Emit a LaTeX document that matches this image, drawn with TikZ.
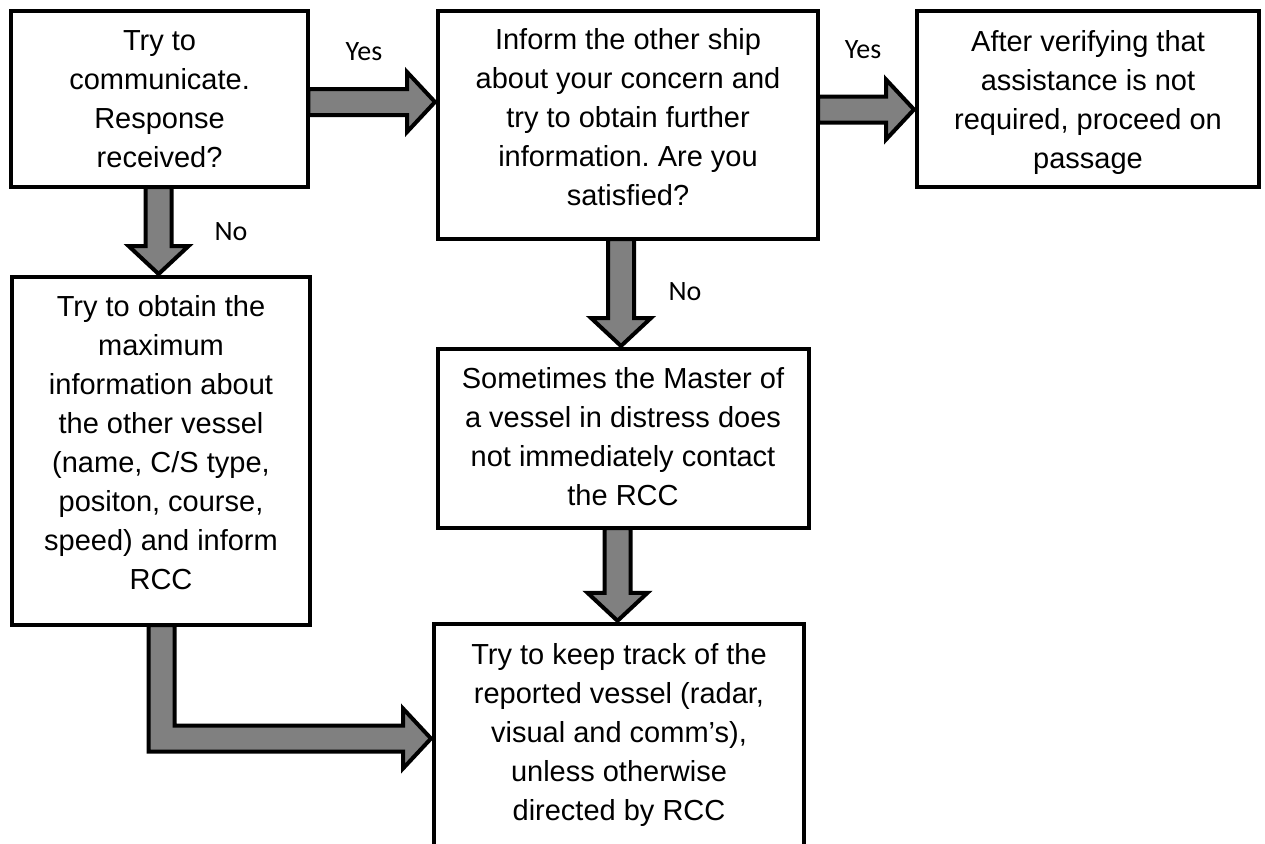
\documentclass[tikz,border=0pt]{standalone}
\usepackage{fontspec}
\setmainfont{Liberation Sans}
\newfontfamily\lblfont{Carlito}
\usetikzlibrary{calc}
\frenchspacing
\definecolor{arrowgray}{HTML}{808080}
\tikzset{
  box/.style={draw=black, line width=4pt, fill=white, inner sep=0pt, outer sep=0pt, rectangle},
  txt/.style={align=center, inner sep=0pt, font=\fontsize{29}{39}\selectfont},
  lbl/.style={inner sep=0pt, font=\lblfont\fontsize{28}{32}\selectfont},
  blockarrow/.style={draw=black, line width=4pt, fill=arrowgray, line join=miter, miter limit=10},
}
% right-pointing block arrow: #1 start point, #2 tip point (x only)
\newcommand\myRarrow[2]{%
  \draw[blockarrow] let \p1=(#1), \p2=(#2) in
    (\x1,\y1-13pt) -- (\x2-28pt,\y1-13pt) -- (\x2-28pt,\y1-30pt) -- (\x2,\y1)
    -- (\x2-28pt,\y1+30pt) -- (\x2-28pt,\y1+13pt) -- (\x1,\y1+13pt) -- cycle;}
% down-pointing block arrow: #1 start point, #2 tip point (y only)
\newcommand\myDarrow[2]{%
  \draw[blockarrow] let \p1=(#1), \p2=(#2) in
    (\x1-13pt,\y1) -- (\x1-13pt,\y2+28pt) -- (\x1-30pt,\y2+28pt) -- (\x1,\y2)
    -- (\x1+30pt,\y2+28pt) -- (\x1+13pt,\y2+28pt) -- (\x1+13pt,\y1) -- cycle;}
\begin{document}
\begin{tikzpicture}[x=1pt,y=-1pt]
\clip (0,0) rectangle (1265,843);
\fill[white] (0,0) rectangle (1265,843);

% boxes
\node[box, minimum width=297.7pt, minimum height=176pt] (A) at (159.6,99) {};
\node[box, minimum width=380pt, minimum height=228pt] (B) at (628,125) {};
\node[box, minimum width=342pt, minimum height=176pt] (C) at (1088,99) {};
\node[box, minimum width=298pt, minimum height=348pt] (D) at (161,451) {};
\node[box, minimum width=371pt, minimum height=179pt] (E) at (623,438.5) {};
\node[box, minimum width=370pt, minimum height=300pt] (F) at (619,773.8) {};

% texts
\node[txt] (At) at ($(A)+(0,2)$) {\strut Try to\\communicate.\\Response\\received?\strut};
\node[txt] (Bt) at ($(B)+(0,-5)$) {\strut Inform the other ship\\about your concern and\\try to obtain further\\information. Are you\\satisfied?\strut};
\node[txt] (Ct) at ($(C)+(0,3)$) {\strut After verifying that\\assistance is not\\required, proceed on\\passage\strut};
\node[txt] (Dt) at ($(D)+(0,-5.4)$) {\strut Try to obtain the\\maximum\\information about\\the other vessel\\(name, C/S type,\\positon, course,\\speed) and inform\\RCC\strut};
\node[txt] (Et) at ($(E)+(0,0.5)$) {\strut Sometimes the Master of\\a vessel in distress does\\not immediately contact\\the RCC\strut};
\node[txt] (Ft) at ($(F)+(0,-38.8)$) {\strut Try to keep track of the\\reported vessel (radar,\\visual and comm’s),\\unless otherwise\\directed by RCC\strut};

% arrows
\myRarrow{$(A.east)+(0,3)$}{$(B.west)+(-3,0)$}
\myRarrow{$(B.east)+(0,-15.5)$}{$(C.west)+(-3,0)$}
\myDarrow{$(A.south)+(-1,0)$}{$(D.north)+(0,-3)$}
\myDarrow{$(B.south -| E.north)+(-2,0)$}{$(E.north)+(0,-3)$}
\myDarrow{$(E.south -| F.north)+(-1.5,0)$}{$(F.north)+(0,-3)$}
% elbow arrow D -> F
\draw[blockarrow] let \p1=($(D.south)+(0.5,0)$), \p2=($(F.west)+(-3,0)$) in
  (\x1-13pt,\y1) -- (\x1-13pt,\y1-126.5pt) -- (\x2-28pt,\y1-126.5pt)
  -- (\x2-28pt,\y1-143.5pt) -- (\x2,\y1-113.5pt) -- (\x2-28pt,\y1-83.5pt)
  -- (\x2-28pt,\y1-100.5pt) -- (\x1+13pt,\y1-100.5pt) -- (\x1+13pt,\y1) -- cycle;

% labels
\node[lbl] (yes1) at (364,52) {Yes};
\node[lbl] (no1) at (231,232) {No};
\node[lbl] (yes2) at (863,50) {Yes};
\node[lbl] (no2) at (685,292) {No};
\end{tikzpicture}
\end{document}
